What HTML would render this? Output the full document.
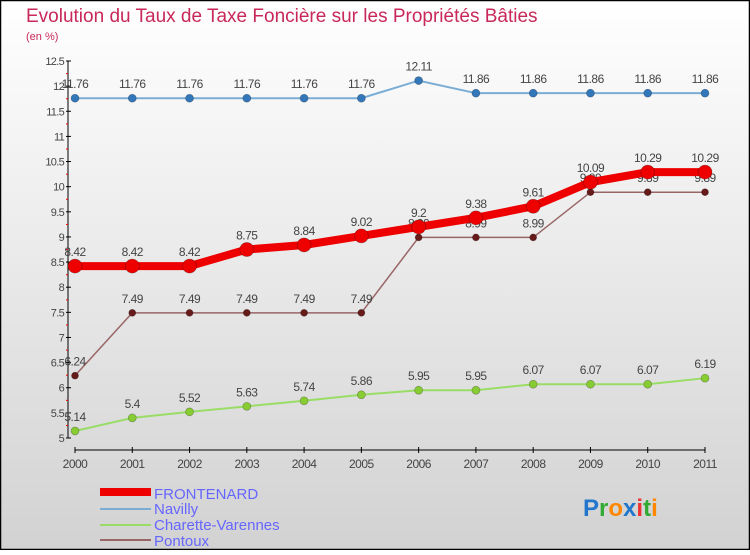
<!DOCTYPE html>
<html><head><meta charset="utf-8"><style>
html,body{margin:0;padding:0}
body{width:750px;height:550px;overflow:hidden;font-family:"Liberation Sans",sans-serif}
</style></head><body>
<svg id="chart" width="750" height="550" xmlns="http://www.w3.org/2000/svg">
<defs><linearGradient id="bg" x1="0" y1="0" x2="0" y2="1"><stop offset="0" stop-color="#ffffff"/><stop offset="1" stop-color="#d2d2d2"/></linearGradient></defs>
<rect x="0.5" y="0.5" width="749" height="549" fill="url(#bg)" stroke="#000" stroke-width="1.5"/>
<text x="26" y="22" font-size="19" fill="#c8285a">Evolution du Taux de Taxe Foncière sur les Propriétés Bâties</text>
<text x="26" y="40" font-size="11" fill="#c8285a">(en %)</text>
<g id="axes"></g><g id="series"></g>
<g font-size="15" fill="#6666ff">
<rect x="100" y="488" width="51" height="8" fill="#e00"/><text x="154" y="499">FRONTENARD</text>
<line x1="100" y1="509" x2="151" y2="509" stroke="#7aadd6" stroke-width="2"/><text x="154" y="514">Navilly</text>
<line x1="100" y1="525" x2="151" y2="525" stroke="#99dd66" stroke-width="2"/><text x="154" y="530">Charette-Varennes</text>
<line x1="100" y1="540" x2="151" y2="540" stroke="#996666" stroke-width="2"/><text x="154" y="546">Pontoux</text>
</g>
<g font-size="24" font-weight="bold"><text x="583" y="516"><tspan fill="#2277cc">P</tspan><tspan fill="#33aa33">r</tspan><tspan fill="#ff8800">o</tspan><tspan fill="#2277cc">x</tspan><tspan fill="#ee3333">i</tspan><tspan fill="#33aa33">t</tspan><tspan fill="#ff8800">i</tspan></text></g>
</svg>
<script>
const years=[2000,2001,2002,2003,2004,2005,2006,2007,2008,2009,2010,2011];
const frontenard=[8.42,8.42,8.42,8.75,8.84,9.02,9.2,9.38,9.61,10.09,10.29,10.29];
const navilly=[11.76,11.76,11.76,11.76,11.76,11.76,12.11,11.86,11.86,11.86,11.86,11.86];
const charette=[5.14,5.4,5.52,5.63,5.74,5.86,5.95,5.95,6.07,6.07,6.07,6.19];
const pontoux=[6.24,7.49,7.49,7.49,7.49,7.49,8.99,8.99,8.99,9.89,9.89,9.89];
const yTicks=[5,5.5,6,6.5,7,7.5,8,8.5,9,9.5,10,10.5,11,11.5,12,12.5];
const NS="http://www.w3.org/2000/svg";
const xs=i=>75+i*(705-75)/(years.length-1);
const ys=v=>438-(v-5)*(438-61)/7.5;
function mk(t,a,p){const e=document.createElementNS(NS,t);for(const k in a)e.setAttribute(k,a[k]);p.appendChild(e);return e;}
const ax=document.getElementById('axes');
mk('line',{x1:68,y1:61,x2:68,y2:438,stroke:'#000','stroke-width':1},ax);
mk('line',{x1:75,y1:450,x2:705,y2:450,stroke:'#000','stroke-width':1},ax);
yTicks.forEach(v=>{const y=ys(v);
 mk('line',{x1:66,y1:y,x2:71,y2:y,stroke:'#000'},ax);
 if(v<12.5) mk('line',{x1:66,y1:y-12.5,x2:68,y2:y-12.5,stroke:'#e00'},ax);
 const t=mk('text',{x:64,y:y+4,'text-anchor':'end','font-size':11,fill:'#444','letter-spacing':'-0.7'},ax);t.textContent=String(v);
 
 });
years.forEach((yr,i)=>{const x=xs(i);
 mk('line',{x1:x,y1:447,x2:x,y2:453,stroke:'#000'},ax);
 const t=mk('text',{x:x,y:468,'text-anchor':'middle','font-size':12,fill:'#444','letter-spacing':'-0.5'},ax);t.textContent=yr;
 
 });
const sg=document.getElementById('series');
function series(name,vals,color,w,dotFill,r){
 const g=mk('g',{},sg);
 
 
 mk('polyline',{points:vals.map((v,i)=>xs(i)+','+ys(v)).join(' '),fill:'none',stroke:color,'stroke-width':w},g);
 vals.forEach((v,i)=>{const c=mk('circle',{cx:xs(i),cy:ys(v),r:r,fill:dotFill,stroke:'rgba(0,0,0,0.3)','stroke-width':0.7},g);
  
  
  const t=mk('text',{x:xs(i),y:ys(v)-10,'text-anchor':'middle','font-size':12,fill:'#444','letter-spacing':'-0.5'},g);t.textContent=String(v);
  
  });
}
series('charette',charette,'#99dd66',2,'#88cc33',4);
series('pontoux',pontoux,'#996666',1.5,'#661a1a',3.5);
series('navilly',navilly,'#7aadd6',2,'#3377bb',4);
series('frontenard',frontenard,'#ee0000',8,'#ee0000',7);
</script>
</body></html>
